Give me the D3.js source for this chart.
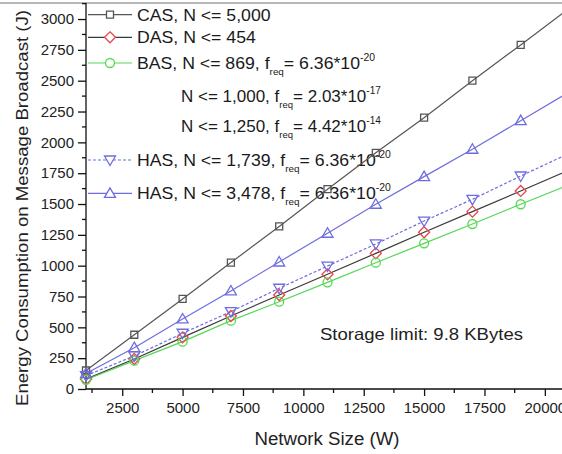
<!DOCTYPE html>
<html>
<head>
<meta charset="utf-8">
<script src="https://cdn.jsdelivr.net/npm/d3@7"></script>
<style>
  html, body { margin: 0; padding: 0; background: #fff; }
  svg { display: block; font-family: "Liberation Sans", Arial, Helvetica, sans-serif; }
  .tick text { fill: #222; }
</style>
</head>
<body>
<svg id="chart" width="562" height="454"></svg>
<script>
// network sizes where each series was sampled
const sizes = [1000, 3000, 5000, 7000, 9000, 11000, 13000, 15000, 17000, 19000, 21000];

const casValues  = [150, 440, 730, 1025, 1318, 1620, 1915, 2200, 2500, 2790, 3085];
const dasValues  = [80, 243, 419, 592, 762, 930, 1100, 1271, 1438, 1606, 1775];
const basValues  = [75, 230, 384, 554, 708, 865, 1024, 1181, 1338, 1498, 1655];
const has1Values = [108, 268, 452, 627, 817, 997, 1176, 1362, 1538, 1727, 1910];
const has2Values = [125, 335, 568, 795, 1030, 1263, 1498, 1722, 1944, 2176, 2408];

const xTicks = [2500, 5000, 7500, 10000, 12500, 15000, 17500, 20000];
const xMinorTicks = [1250, 3750, 6250, 8750, 11250, 13750, 16250, 18750];
const yTicks = [0, 250, 500, 750, 1000, 1250, 1500, 1750, 2000, 2250, 2500, 2750, 3000];
const yMinorTicks = [125, 375, 625, 875, 1125, 1375, 1625, 1875, 2125, 2375, 2625, 2875, 3125];

// legend text: main part, f_req value, exponent
const legendMain = ['CAS, N <= 5,000', 'DAS, N <= 454', 'BAS, N <= 869, ', 'N <= 1,000, ',
                    'N <= 1,250, ', 'HAS, N <= 1,739, ', 'HAS, N <= 3,478, '];
const legendFreq = [null, null, '6.36*10', '2.03*10', '4.42*10', '6.36*10', '6.36*10'];
const legendExp  = [null, null, '-20', '-17', '-14', '-20', '-20'];
const legendSeries = [0, 1, 2, null, null, 3, 4];  // which series symbol sits in each row

const series = [
  { name: 'CAS', values: casValues, line: '#555', mark: '#555', shape: 'square', dash: null },
  { name: 'DAS', values: dasValues, line: '#3a3a3a', mark: '#e8474c', shape: 'diamond', dash: null },
  { name: 'BAS', values: basValues, line: '#55d855', mark: '#55d855', shape: 'circle', dash: null },
  { name: 'HAS1', values: has1Values, line: '#6d6de0', mark: '#6d6de0', shape: 'triDown', dash: '3,2' },
  { name: 'HAS2', values: has2Values, line: '#6d6de0', mark: '#6d6de0', shape: 'triUp', dash: null }
];

const svg = d3.select('#chart');
const pLeft = 86, pTop = 3, pBottom = 389, pRight = 569;

const x = d3.scaleLinear().domain([1000, 21000]).range([pLeft, pRight]);
const y = d3.scaleLinear().domain([0, 3130]).range([pBottom, pTop]);

function markerPath(shape) {
  switch (shape) {
    case 'square': return 'M-3.5,-3.5H3.5V3.5H-3.5Z';
    case 'diamond': return 'M0,-5.5L5.5,0L0,5.5L-5.5,0Z';
    case 'circle': return 'M4.5,0A4.5,4.5 0 1,1 -4.5,0A4.5,4.5 0 1,1 4.5,0Z';
    case 'triUp': return 'M0,-5.5L5.5,4L-5.5,4Z';
    case 'triDown': return 'M0,5.5L5.5,-4L-5.5,-4Z';
  }
}

// top frame line
svg.append('line')
  .attr('x1', 0).attr('x2', 562).attr('y1', pTop).attr('y2', pTop)
  .attr('stroke', '#a0a0a0').attr('stroke-width', 1.5);

// axes
const xAxis = svg.append('g').attr('transform', `translate(0,${pBottom})`)
  .call(d3.axisBottom(x).tickValues(xTicks).tickSize(7).tickPadding(6).tickFormat(d3.format('d')))
  .call(g => g.select('.domain').attr('d', `M${pLeft},0H${pRight}`).attr('stroke', '#111').attr('stroke-width', 1.3));
xAxis.selectAll('.tick line').attr('stroke', '#111').attr('stroke-width', 1.3);
xAxis.selectAll('.tick text').attr('font-size', 15);
svg.append('g').attr('transform', `translate(0,${pBottom})`)
  .selectAll('line').data(xMinorTicks).join('line')
  .attr('x1', d => x(d)).attr('x2', d => x(d)).attr('y1', 0).attr('y2', 4)
  .attr('stroke', '#111').attr('stroke-width', 1.3);

const yAxis = svg.append('g').attr('transform', `translate(${pLeft},0)`)
  .call(d3.axisLeft(y).tickValues(yTicks).tickSize(8).tickPadding(4).tickFormat(d3.format('d')))
  .call(g => g.select('.domain').attr('d', `M0,${pBottom}V${pTop}`).attr('stroke', '#111').attr('stroke-width', 1.3));
yAxis.selectAll('.tick line').attr('stroke', '#111').attr('stroke-width', 1.3);
yAxis.selectAll('.tick text').attr('font-size', 15);
svg.append('g').attr('transform', `translate(${pLeft},0)`)
  .selectAll('line').data(yMinorTicks).join('line')
  .attr('x1', -4).attr('x2', 0).attr('y1', d => y(d)).attr('y2', d => y(d))
  .attr('stroke', '#111').attr('stroke-width', 1.3);

// titles
svg.append('text')
  .attr('x', 327).attr('y', 445).attr('text-anchor', 'middle')
  .attr('font-size', 18).attr('fill', '#222')
  .attr('textLength', 145).attr('lengthAdjust', 'spacingAndGlyphs')
  .text('Network Size (W)');

svg.append('text')
  .attr('transform', 'translate(28,208) rotate(-90)')
  .attr('text-anchor', 'middle')
  .attr('font-size', 17).attr('fill', '#222')
  .attr('textLength', 396).attr('lengthAdjust', 'spacingAndGlyphs')
  .text('Energy Consumption on Message Broadcast (J)');

svg.append('text')
  .attr('x', 320).attr('y', 340)
  .attr('font-size', 16.5).attr('fill', '#222')
  .attr('textLength', 203).attr('lengthAdjust', 'spacingAndGlyphs')
  .text('Storage limit: 9.8 KBytes');

// legend
const rowBase = [20.7, 43.3, 69, 101.7, 131.7, 166, 199.3];
const legend = svg.append('g');
legendMain.forEach((label, i) => {
  const sIdx = legendSeries[i];
  const base = rowBase[i];
  const tx = sIdx === null ? 181 : 137;
  const sx = sIdx === null ? 1 : 1.04;
  const t = legend.append('text')
    .attr('transform', `translate(${tx},${base}) scale(${sx},1)`)
    .attr('font-size', 17).attr('fill', '#1a1a1a');
  t.append('tspan').text(label);
  if (legendFreq[i]) {
    t.append('tspan').text('f');
    t.append('tspan').attr('font-size', 9.5).attr('dy', 6).text('req');
    t.append('tspan').attr('dy', -6).text('= ' + legendFreq[i]);
    t.append('tspan').attr('font-size', 10).attr('dy', -8).text(legendExp[i]);
  }
  if (sIdx !== null) {
    const s = series[sIdx];
    const cy = base - 6;
    legend.append('line')
      .attr('x1', 88).attr('x2', 132).attr('y1', cy).attr('y2', cy)
      .attr('stroke', s.line).attr('stroke-width', 1.2)
      .attr('stroke-dasharray', s.dash);
    legend.append('path')
      .attr('d', markerPath(s.shape))
      .attr('transform', `translate(110,${cy})`)
      .attr('fill', '#fff').attr('stroke', s.mark).attr('stroke-width', 1.3);
  }
});

// series lines and markers
const line = d3.line().x((d, i) => x(sizes[i])).y(d => y(d));
const plot = svg.append('g');
series.forEach(s => {
  plot.append('path')
    .datum(s.values)
    .attr('d', line)
    .attr('fill', 'none')
    .attr('stroke', s.line).attr('stroke-width', 1.2)
    .attr('stroke-dasharray', s.dash);
});
series.forEach(s => {
  plot.selectAll(null).data(s.values).join('path')
    .attr('d', markerPath(s.shape))
    .attr('transform', (d, i) => `translate(${x(sizes[i])},${y(d)})`)
    .attr('fill', 'none').attr('stroke', s.mark).attr('stroke-width', 1.3);
});
</script>
</body>
</html>
